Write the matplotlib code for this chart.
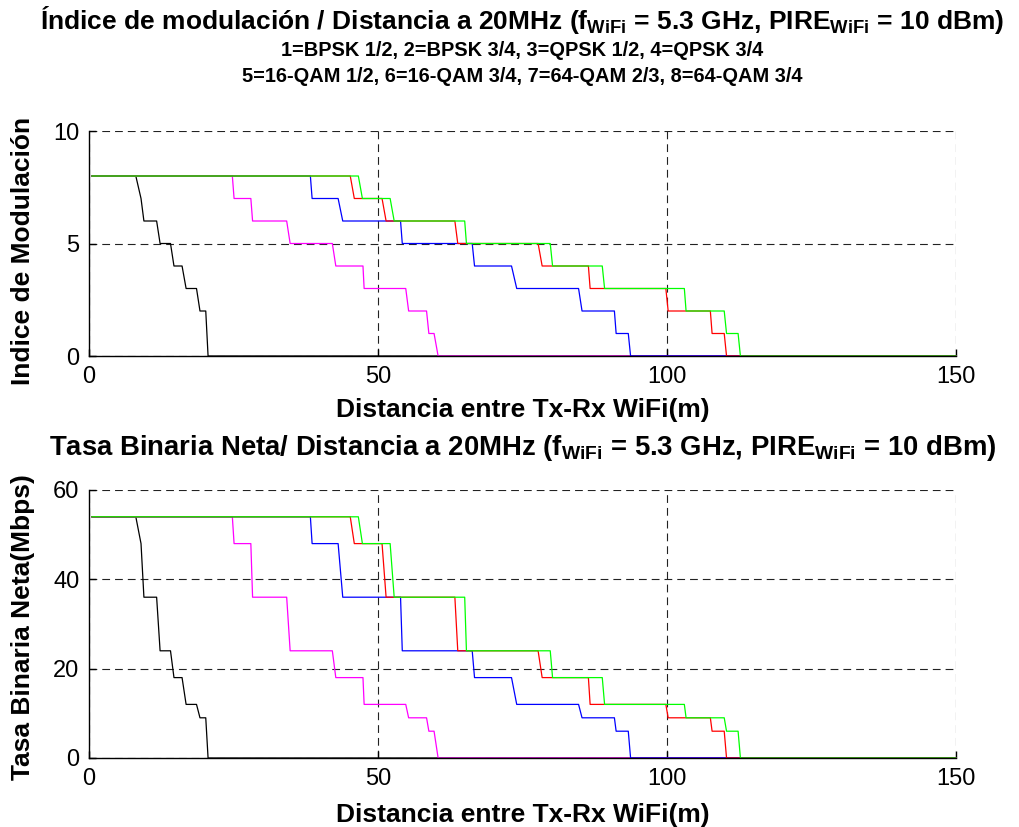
import matplotlib
matplotlib.use("Agg")
import matplotlib.pyplot as plt
import numpy as np

plt.rcParams["font.family"] = ["Liberation Sans", "DejaVu Sans"]
plt.rcParams["mathtext.fontset"] = "custom"
plt.rcParams["mathtext.rm"] = "Liberation Sans"
plt.rcParams["mathtext.bf"] = "Liberation Sans:bold"

# modulation index (1..8, 0 = no link) vs distance
black_d = [0.5, 8.1, 9.0, 9.5, 11.7, 12.3, 14.1, 14.7, 16.1, 16.8, 18.6, 19.2, 20.2, 20.6, 150]
black_m = [8, 8, 7, 6, 6, 5, 5, 4, 4, 3, 3, 2, 2, 0, 0]

magenta_d = [0.5, 24.8, 25.1, 28.0, 28.3, 34.2, 34.8, 42.1, 42.7, 47.4, 47.6,
             54.8, 55.3, 58.4, 58.8, 59.7, 60.4, 150]
magenta_m = [8, 8, 7, 7, 6, 6, 5, 5, 4, 4, 3, 3, 2, 2, 1, 1, 0, 0]

blue_d = [0.5, 38.3, 38.6, 43.1, 43.9, 53.9, 54.2, 66.3, 66.7, 73.1, 74.0,
          84.7, 85.3, 90.9, 91.2, 93.3, 93.7, 150]
blue_m = [8, 8, 7, 7, 6, 6, 5, 5, 4, 4, 3, 3, 2, 2, 1, 1, 0, 0]

red_d = [0.5, 45.2, 45.9, 50.7, 51.4, 63.3, 63.8, 77.7, 78.4, 86.4, 86.7,
         99.8, 100.2, 107.5, 107.8, 109.9, 110.3, 150]
red_m = [8, 8, 7, 7, 6, 6, 5, 5, 4, 4, 3, 3, 2, 2, 1, 1, 0, 0]

green_d = [0.5, 46.6, 47.3, 52.1, 52.8, 65.0, 65.3, 79.8, 80.2, 88.8, 89.2,
           103.0, 103.3, 109.9, 110.3, 112.3, 112.7, 150]
green_m = [8, 8, 7, 7, 6, 6, 5, 5, 4, 4, 3, 3, 2, 2, 1, 1, 0, 0]

# net bit rate (Mbps) for each modulation index 0..8
rate_mbps = [0, 6, 9, 12, 18, 24, 36, 48, 54]

series = [
    (black_d, black_m, "#000000"),
    (magenta_d, magenta_m, "#ff00ff"),
    (blue_d, blue_m, "#0000ff"),
    (red_d, red_m, "#ff0000"),
    (green_d, green_m, "#00ff00"),
]

x_ticks = [0, 50, 100, 150]
mod_ticks = [0, 5, 10]
rate_ticks = [0, 20, 40, 60]

W, H = 1020, 827
fig = plt.figure(figsize=(W / 100, H / 100), dpi=100)


def px_axes(left, top, right, bottom):
    return fig.add_axes([left / W, 1 - bottom / H, (right - left) / W, (bottom - top) / H])


def style(ax, yticks, ylim):
    ax.set_xlim(0, 150)
    ax.set_ylim(*ylim)
    ax.set_xticks(x_ticks)
    ax.set_yticks(yticks)
    ax.spines["top"].set_visible(False)
    ax.spines["right"].set_visible(False)
    for s in ("left", "bottom"):
        ax.spines[s].set_linewidth(1.0)
    ax.tick_params(direction="in", length=5, width=1.0, labelsize=17, pad=7)
    ax.grid(True, color="#222222", linewidth=0.8, linestyle=(0, (7, 4.5)))
    ax.set_axisbelow(True)


fs_big = 19
fs_sub = 14.4
sub = r"$_{\mathbf{WiFi}}$"

ax1 = px_axes(89, 131, 956, 356)
for d, m, c in series:
    ax1.plot(d, m, color=c, linewidth=0.9, clip_on=False)
style(ax1, mod_ticks, (0, 10))
ax1.set_xlabel("Distancia entre Tx-Rx WiFi(m)", fontsize=fs_big, fontweight="bold", va="center")
ax1.xaxis.set_label_coords(0.5, (356 - 410) / 225)
ax1.set_ylabel("Indice de Modulación", fontsize=fs_big, fontweight="bold", va="center")
ax1.yaxis.set_label_coords((23 - 89) / 867, 0.465)

ax2 = px_axes(89, 490, 956, 758)
for d, m, c in series:
    ax2.plot(d, [rate_mbps[k] for k in m], color=c, linewidth=0.9, clip_on=False)
style(ax2, rate_ticks, (0, 60))
ax2.set_xlabel("Distancia entre Tx-Rx WiFi(m)", fontsize=fs_big, fontweight="bold", va="center")
ax2.xaxis.set_label_coords(0.5, (758 - 815) / 268)
ax2.set_ylabel("Tasa Binaria Neta(Mbps)", fontsize=fs_big, fontweight="bold", va="center")
ax2.yaxis.set_label_coords((23 - 89) / 867, 0.49)

cx = (89 + 956) / 2 / W
fig.text(cx, 1 - 20 / H,
         "Índice de modulación / Distancia a 20MHz (f" + sub + " = 5.3 GHz, PIRE" + sub + " = 10 dBm)",
         ha="center", va="center", fontsize=fs_big, fontweight="bold")
fig.text(cx, 1 - 50 / H, "1=BPSK 1/2, 2=BPSK 3/4, 3=QPSK 1/2, 4=QPSK 3/4",
         ha="center", va="center", fontsize=fs_sub, fontweight="bold")
fig.text(cx, 1 - 77 / H, "5=16-QAM 1/2, 6=16-QAM 3/4, 7=64-QAM 2/3, 8=64-QAM 3/4",
         ha="center", va="center", fontsize=fs_sub, fontweight="bold")
fig.text(cx, 1 - 448 / H,
         "Tasa Binaria Neta/ Distancia a 20MHz (f" + sub + " = 5.3 GHz, PIRE" + sub + " = 10 dBm)",
         ha="center", va="center", fontsize=19.8, fontweight="bold")

fig.savefig("out.png", dpi=100, facecolor="white")
